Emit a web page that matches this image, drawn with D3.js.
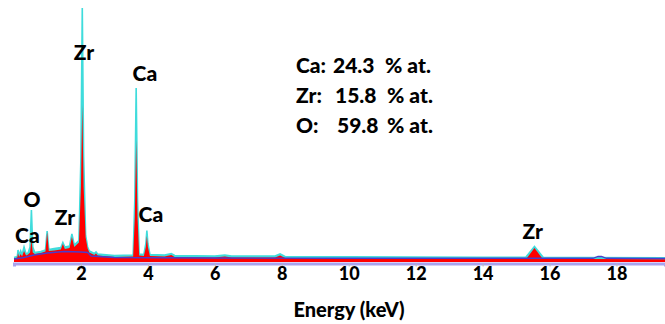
<!DOCTYPE html>
<html><head><meta charset="utf-8">
<script src="https://cdn.jsdelivr.net/npm/d3@7"></script>
<style>
html,body{margin:0;padding:0;background:#fff;}
svg text{font-family:Lato,"Open Sans",sans-serif;font-weight:900;fill:#000;}
</style></head>
<body>
<svg id="c" width="665" height="324"></svg>
<script>
// Energy (keV) and counts for the two spectra and the background fit
const cyanE = [0.00,0.10,0.12,0.15,0.20,0.24,0.30,0.36,0.42,0.48,0.52,0.56,0.62,0.80,0.94,0.99,1.04,1.20,1.40,1.46,1.52,1.66,1.73,1.80,1.94,2.00,2.04,2.08,2.14,2.20,2.25,2.40,2.45,2.50,3.00,3.56,3.61,3.65,3.69,3.74,3.88,3.94,3.97,4.00,4.06,4.50,4.70,4.80,6.00,6.30,6.50,7.80,7.95,8.10,10.0,12.0,14.0,15.29,15.55,15.81,17.0,19.45];
const cyanC = [18,22,48,26,44,28,60,32,36,60,208,60,38,42,48,124,50,54,58,78,60,64,112,68,86,420,1016,420,106,60,44,34,40,32,26,28,250,696,250,32,30,74,126,74,30,28,34,26,24,28,24,24,32,22,21,20,19,19,62,19,18,17];
const redE = [0.00,0.10,0.12,0.15,0.20,0.24,0.30,0.36,0.42,0.48,0.52,0.56,0.62,0.80,0.94,0.99,1.04,1.20,1.40,1.46,1.52,1.66,1.73,1.80,1.94,2.00,2.04,2.08,2.14,2.20,2.25,2.40,2.45,2.50,3.00,3.56,3.61,3.65,3.69,3.74,3.88,3.94,3.97,4.00,4.06,4.50,4.70,4.80,6.00,6.30,6.50,7.80,7.95,8.10,10.0,12.0,14.0,15.31,15.55,15.79,17.0,19.45];
const redC = [14,18,36,20,32,22,44,26,30,38,90,38,32,36,42,120,44,46,50,72,52,56,100,60,78,300,628,300,98,54,38,28,34,26,20,22,180,488,180,26,24,60,104,60,24,22,28,20,18,22,18,18,26,16,15,14,13,13,56,13,12,11];
const fitE = [0.00,0.30,0.60,1.00,1.50,2.00,2.20,2.30,3.00,6.00,10.0,17.30,17.45,17.55,17.70,19.45];
const fitC = [12,18,28,36,42,40,38,24,18,16,15,15,22,22,15,14];

const tickVals = [2,4,6,8,10,12,14,16,18];
const xTitle = "Energy (keV)";
const peakNames = ["Zr","Ca","O","Ca","Zr","Ca","Zr"];
const peakE = [2.09,3.91,0.54,0.40,1.52,4.09,15.5];
const peakLabelC = [810,725,222,76,148,160,92];
const compEl = ["Ca:","Zr:","O:"];
const compVal = ["24.3","15.8","59.8"];
const compUnit = "% at.";

const svg = d3.select("#c");
const x = d3.scaleLinear().domain([0,19.45]).range([14,665]);
const y = d3.scaleLinear().domain([0,1000]).range([262,12]);

const cyan = cyanE.map((e,i)=>[e,cyanC[i]]);
const red = redE.map((e,i)=>[e,redC[i]]);
const fit = fitE.map((e,i)=>[e,fitC[i]]);

const line = d3.line().x(d=>x(d[0])).y(d=>y(d[1]));
const area = d3.area().x(d=>x(d[0])).y0(y(0)).y1(d=>y(d[1]));

svg.append("path").datum(cyan).attr("d",area).attr("fill","#3fdcdc");
svg.append("path").datum(cyan).attr("d",line).attr("fill","none").attr("stroke","#3fdcdc").attr("stroke-width",1.6);
svg.append("path").datum(red).attr("d",area).attr("fill","#ff0000");
svg.append("path").datum(fit).attr("d",line).attr("fill","none").attr("stroke","#4a3ccc").attr("stroke-width",1.3);

const ax = svg.append("g").attr("transform",`translate(0,${y(0)+1.5})`)
  .call(d3.axisBottom(x).tickValues(tickVals).tickSize(3).tickPadding(1).tickFormat(d3.format("d")));
ax.select(".domain").attr("stroke","#a9a3ee").attr("stroke-width",3);
ax.selectAll(".tick line").attr("stroke","#bbb");
ax.selectAll(".tick text").style("font-size","18px").attr("fill","#000");

svg.append("text").attr("x",349).attr("y",317).attr("text-anchor","middle").style("font-size","20px").text(xTitle);

svg.selectAll("text.peak").data(peakNames).enter().append("text").attr("class","peak")
  .attr("x",(d,i)=>x(peakE[i])).attr("y",(d,i)=>y(peakLabelC[i])).attr("text-anchor","middle")
  .style("font-size","21px").text(d=>d);

const rows = svg.selectAll("g.comp").data(compEl).enter().append("g").attr("class","comp")
  .attr("transform",(d,i)=>`translate(0,${73+i*30})`);
rows.append("text").attr("x",296).style("font-size","21px").text(d=>d);
rows.append("text").attr("x",(d,i)=>333+i*2).style("font-size","21px").text((d,i)=>compVal[i]);
rows.append("text").attr("x",(d,i)=>i?387:385).style("font-size","21px").text(compUnit);
</script>
</body></html>
